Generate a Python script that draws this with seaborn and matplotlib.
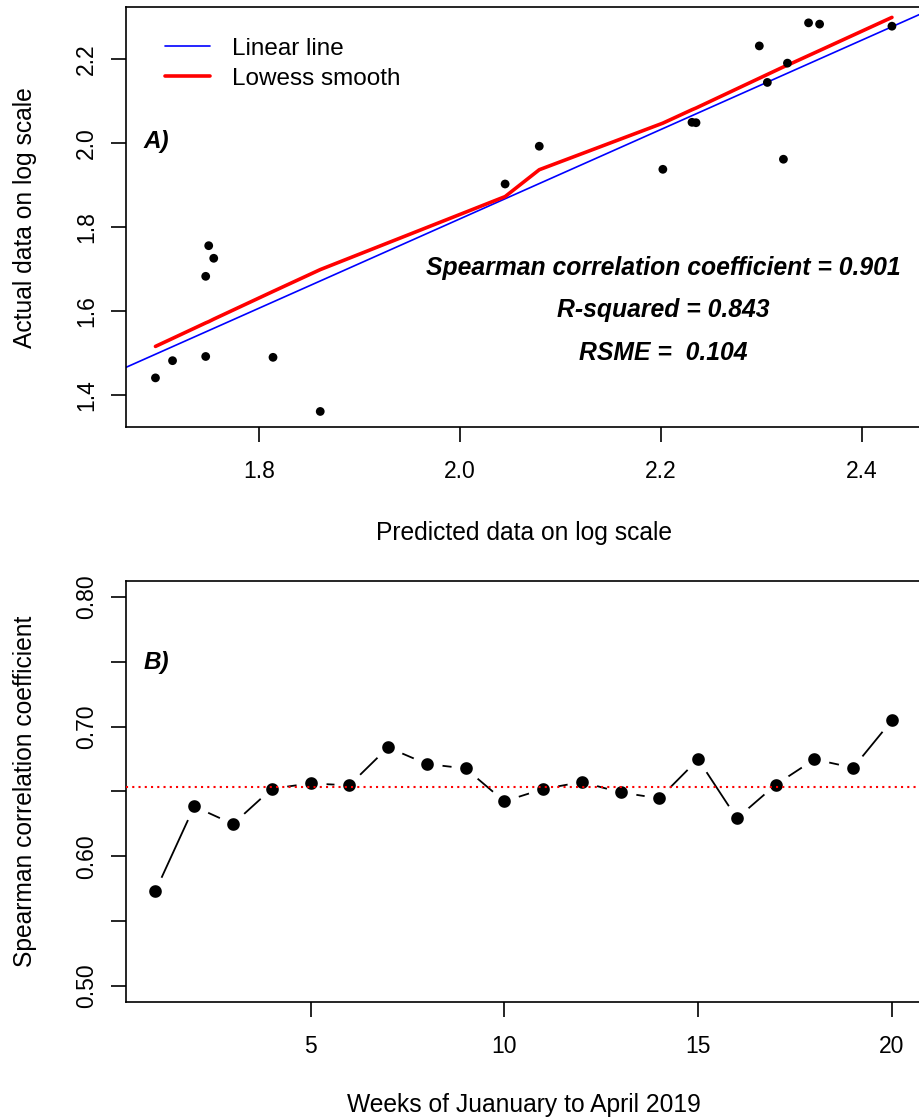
import numpy as np
import pandas as pd
import matplotlib
matplotlib.use('Agg')
import matplotlib.pyplot as plt
import seaborn as sns

# panel A: predicted vs actual (log scale)
predicted = [1.697, 1.714, 1.747, 1.747, 1.750, 1.755, 1.814, 1.861, 2.045, 2.079,
             2.202, 2.231, 2.235, 2.298, 2.306, 2.322, 2.326, 2.347, 2.358, 2.430]
actual = [1.440, 1.481, 1.491, 1.682, 1.755, 1.725, 1.489, 1.360, 1.902, 1.992,
          1.937, 2.049, 2.048, 2.231, 2.144, 1.961, 2.190, 2.286, 2.283, 2.278]
# lowess fit evaluated at the (sorted) predicted values
lowess_fit = [1.515, 1.534, 1.571, 1.571, 1.574, 1.580, 1.646, 1.698, 1.872, 1.936,
              2.047, 2.079, 2.083, 2.154, 2.163, 2.181, 2.185, 2.208, 2.220, 2.299]
stats_lines = ['Spearman correlation coefficient = 0.901',
               'R-squared = 0.843',
               'RSME =  0.104']

# panel B: weekly spearman correlation
weeks = list(range(1, 21))
spearman = [0.5733, 0.6385, 0.6249, 0.6521, 0.6563, 0.6547, 0.6840, 0.6712, 0.6678, 0.6424,
            0.6519, 0.6573, 0.6493, 0.6447, 0.6748, 0.6293, 0.6552, 0.6748, 0.6683, 0.7049]

df_a = pd.DataFrame({'pred': predicted, 'act': actual, 'lowess': lowess_fit})
df_b = pd.DataFrame({'week': weeks, 'rho': spearman})

sns.set_style('white')
plt.rcParams['font.family'] = ['Liberation Sans', 'DejaVu Sans']
plt.rcParams['text.color'] = 'black'
plt.rcParams['axes.labelcolor'] = 'black'
plt.rcParams['xtick.color'] = 'black'
plt.rcParams['ytick.color'] = 'black'

TICK_FS = 16.5
LAB_FS = 17.7

W, H = 919, 1119
fig = plt.figure(figsize=(W / 100, H / 100), dpi=100)
ax_w = (921.4 - 126) / W
ax1 = fig.add_axes([126 / W, 1 - 427 / H, ax_w, (427 - 7.3) / H])
ax2 = fig.add_axes([126 / W, 1 - 1001.6 / H, ax_w, (1001.6 - 581.4) / H])


def r_style(ax):
    for s in ax.spines.values():
        s.set_color('black')
        s.set_linewidth(1.2)
    ax.tick_params(direction='out', length=10.8, width=1.2, labelsize=TICK_FS,
                   left=True, bottom=True, colors='black')
    ax.tick_params(axis='x', pad=13)
    ax.tick_params(axis='y', pad=9.5)
    for lab in ax.get_yticklabels():
        lab.set_rotation(90)
        lab.set_va('center')


# ---- panel A ----
xr = max(predicted) - min(predicted)
yr = max(actual) - min(actual)
ax1.set_xlim(min(predicted) - 0.04 * xr, max(predicted) + 0.04 * xr)
ax1.set_ylim(min(actual) - 0.04 * yr, max(actual) + 0.04 * yr)

sns.regplot(data=df_a, x='pred', y='act', scatter=False, ci=None, truncate=False,
            color='blue', label='Linear line', line_kws={'linewidth': 1.2}, ax=ax1)
sns.lineplot(data=df_a, x='pred', y='lowess', color='red', linewidth=2.6,
             estimator=None, sort=False, label='Lowess smooth', ax=ax1)
sns.scatterplot(data=df_a, x='pred', y='act', color='black', s=40,
                edgecolor='none', ax=ax1, zorder=3)

ax1.set_xticks([1.8, 2.0, 2.2, 2.4])
ax1.set_yticks([1.4, 1.6, 1.8, 2.0, 2.2])
ax1.set_xticklabels(['1.8', '2.0', '2.2', '2.4'])
ax1.set_yticklabels(['1.4', '1.6', '1.8', '2.0', '2.2'])
r_style(ax1)
ax1.set_xlabel('Predicted data on log scale', fontsize=LAB_FS)
ax1.set_ylabel('Actual data on log scale', fontsize=LAB_FS)
ax1.xaxis.set_label_coords(0.5, -0.2526)
ax1.yaxis.set_label_coords(-0.1275, 0.5)
ax1.xaxis.label.set_va('center')
ax1.yaxis.label.set_va('center')

ax1.legend(loc='upper left', bbox_to_anchor=(0.049, 0.928), frameon=False,
           fontsize=17.5, handlelength=1.85, handletextpad=0.9, labelspacing=0.33,
           borderpad=0, borderaxespad=0)

ax1.text(0.022, 0.681, 'A)', transform=ax1.transAxes, fontsize=17.5,
         fontweight='bold', fontstyle='italic', va='center', ha='left')
for txt, yy in zip(stats_lines, [0.379, 0.279, 0.176]):
    ax1.text(0.675, yy, txt, transform=ax1.transAxes, fontsize=17.8,
             fontweight='bold', fontstyle='italic', va='center', ha='center')

# ---- panel B ----
ax2.set_xlim(1 - 0.04 * 19, 20 + 0.04 * 19)
ax2.set_ylim(0.5 - 0.04 * 0.3, 0.8 + 0.04 * 0.3)
sns.lineplot(data=df_b, x='week', y='rho', color='black', linewidth=1.3,
             marker='o', markersize=15.4, markerfacecolor='black',
             markeredgecolor='white', markeredgewidth=6.3, ax=ax2, zorder=2)
ax2.axhline(np.mean(spearman), color='red', linestyle=(0, (1, 2)),
            linewidth=1.5, zorder=4)

ax2.set_xticks([5, 10, 15, 20])
ax2.set_xticklabels(['5', '10', '15', '20'])
ax2.set_yticks([0.5, 0.55, 0.6, 0.65, 0.7, 0.75, 0.8])
ax2.set_yticklabels(['0.50', '', '0.60', '', '0.70', '', '0.80'])
r_style(ax2)
ax2.set_xlabel('Weeks of Juanuary to April 2019', fontsize=LAB_FS)
ax2.set_ylabel('Spearman correlation coefficient', fontsize=LAB_FS)
ax2.xaxis.set_label_coords(0.5, -0.246)
ax2.yaxis.set_label_coords(-0.1275, 0.5)
ax2.xaxis.label.set_va('center')
ax2.yaxis.label.set_va('center')
ax2.text(0.022, 0.808, 'B)', transform=ax2.transAxes, fontsize=17.5,
         fontweight='bold', fontstyle='italic', va='center', ha='left')

fig.savefig('out.png', dpi=100)
